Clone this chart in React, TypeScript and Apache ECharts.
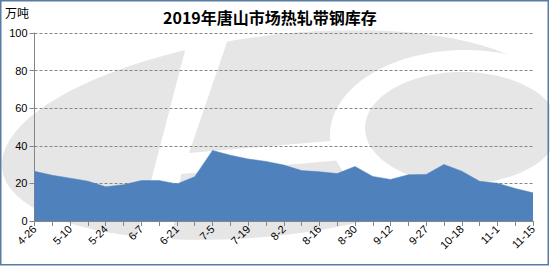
import React, { useEffect, useRef } from "react";
import * as echarts from "echarts";

const titleText = "2019年唐山市场热轧带钢库存";
const unitText = "万吨";

const dates = [
  "4-26", "5-3", "5-10", "5-17", "5-24", "5-31", "6-7", "6-14", "6-21", "6-28",
  "7-5", "7-12", "7-19", "7-26", "8-2", "8-9", "8-16", "8-23", "8-30", "9-6",
  "9-12", "9-20", "9-27", "10-11", "10-18", "10-25", "11-1", "11-8", "11-15",
];

const inventory = [
  26.4, 24.3, 22.8, 21.2, 18.2, 19.3, 21.5, 21.5, 19.7, 23.6,
  37.5, 35.0, 33.0, 31.7, 29.8, 26.8, 26.2, 25.2, 29.0, 23.7,
  22.1, 24.6, 24.8, 30.1, 26.5, 21.1, 20.1, 17.3, 15.0,
];

const yTicks = { min: 0, max: 100, interval: 20 };

function ellipsePoints(cx: number, cy: number, rx: number, ry: number, deg: number, n = 90) {
  const th = (deg * Math.PI) / 180;
  const pts: number[][] = [];
  for (let i = 0; i < n; i++) {
    const t = (i / n) * Math.PI * 2;
    const x = rx * Math.cos(t);
    const y = ry * Math.sin(t);
    pts.push([cx + x * Math.cos(th) + y * Math.sin(th), cy - x * Math.sin(th) + y * Math.cos(th)]);
  }
  return pts;
}

export default function App() {
  const ref = useRef<HTMLDivElement>(null);
  useEffect(() => {
    document.body.style.margin = "0";
    if (!ref.current) return;
    const chart = echarts.init(ref.current, null, { renderer: "svg" });
    const grey = "#e6e6e6";
    chart.setOption({
      animation: false,
      title: {
        text: titleText,
        left: 158,
        top: 4,
        textStyle: { fontFamily: "Noto Sans CJK SC", fontSize: 16, fontWeight: "bold", color: "#000" },
      },
      graphic: [
        { type: "polygon", z: -10, silent: true, shape: { points: ellipsePoints(278, 135, 278, 100, 7) }, style: { fill: grey } },
        {
          type: "polygon", z: -9, silent: true,
          shape: { points: [[193, 20], [234.5, 20], [189, 153], [330, 141], [342, 160], [181, 174], [170, 250], [133, 250]] },
          style: { fill: "#fff" },
        },
        { type: "polygon", z: -9, silent: true, shape: { points: ellipsePoints(465, 135, 135, 85, 0) }, style: { fill: "#fff" } },
        { type: "polygon", z: -8, silent: true, shape: { points: ellipsePoints(462, 128, 97, 56, 0) }, style: { fill: grey } },
        {
          type: "text", left: 5, top: 6, z: 10,
          style: { text: unitText, fontFamily: "Noto Sans CJK SC", fontSize: 12, fill: "#000" },
        },
        {
          type: "rect", z: 100, silent: true,
          shape: { x: 0.75, y: 0.75, width: 547.5, height: 264 },
          style: { fill: "none", stroke: "#5a7ca3", lineWidth: 1.5 },
        },
      ],
      grid: { left: 34.5, right: 17, top: 33, bottom: 45, containLabel: false },
      xAxis: {
        type: "category",
        data: dates,
        boundaryGap: false,
        axisLine: { lineStyle: { color: "#868686", width: 1 } },
        axisTick: { show: true, interval: 0, length: 5, lineStyle: { color: "#868686" } },
        axisLabel: {
          interval: 1,
          rotate: 45,
          margin: 6,
          fontFamily: "Liberation Sans",
          fontSize: 11,
          color: "#000",
        },
      },
      yAxis: {
        type: "value",
        min: yTicks.min,
        max: yTicks.max,
        interval: yTicks.interval,
        axisLine: { show: true, lineStyle: { color: "#868686", width: 1 } },
        axisTick: { show: true, length: 5, lineStyle: { color: "#868686" } },
        axisLabel: { margin: 7, fontFamily: "Liberation Sans", fontSize: 11, color: "#000" },
        splitLine: { show: true, lineStyle: { color: "#868686", type: [3, 2], width: 1 } },
      },
      series: [
        {
          type: "line",
          data: inventory,
          symbol: "none",
          lineStyle: { width: 0.5, color: "#4f81bd" },
          areaStyle: { color: "#4f81bd", opacity: 1 },
          z: 3,
        },
      ],
    });
    return () => chart.dispose();
  }, []);
  return <div ref={ref} style={{ width: 550, height: 266 }} />;
}
